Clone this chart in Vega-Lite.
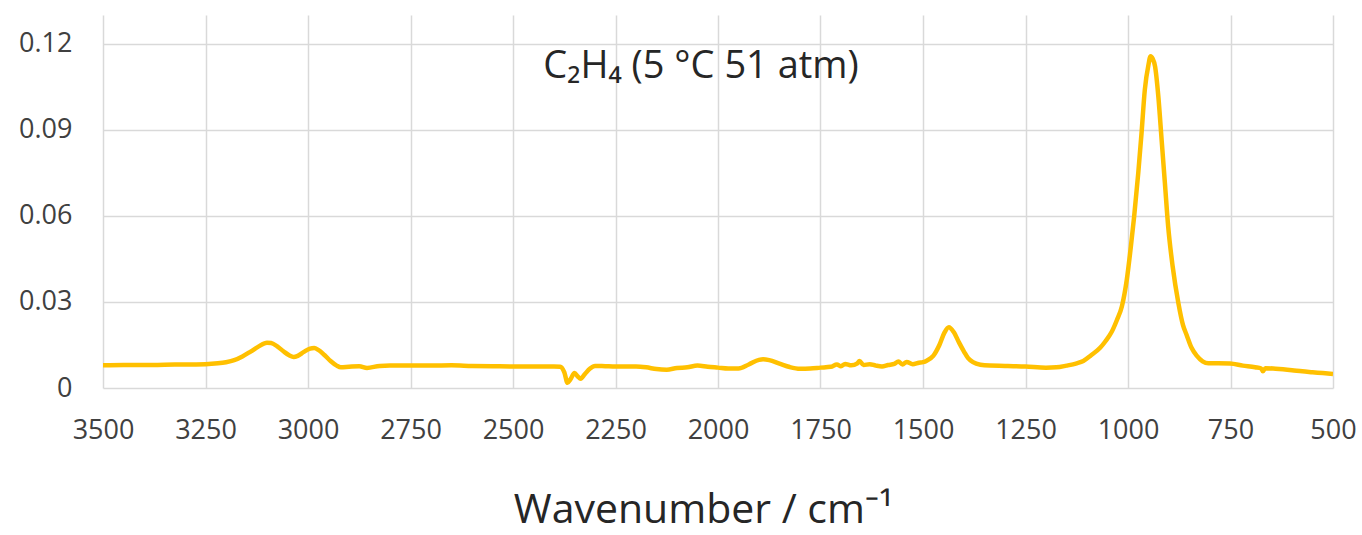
{
  "$schema": "https://vega.github.io/schema/vega-lite/v6.json",
  "width": 1230,
  "height": 373,
  "autosize": {"type": "none"},
  "padding": {"left": 103, "top": 15, "right": 29, "bottom": 147},
  "background": "white",
  "title": {
    "text": "C₂H₄ (5 °C 51 atm)",
    "font": "Open Sans",
    "fontSize": 38,
    "fontWeight": "normal",
    "color": "#262626",
    "anchor": "middle",
    "orient": "top",
    "baseline": "alphabetic",
    "offset": -101,
    "dx": -17
  },
  "config": {
    "view": {"stroke": null},
    "axis": {
      "labelFont": "Open Sans",
      "labelFontSize": 27,
      "labelColor": "#404040",
      "labelFlush": false,
      "labelOverlap": false,
      "titleFont": "Open Sans",
      "titleFontWeight": "normal",
      "titleColor": "#262626",
      "gridColor": "#d9d9d9",
      "gridWidth": 1.5,
      "domain": false,
      "ticks": false
    }
  },
  "data": {
    "values": [
      {"wavenumber": 3500, "absorbance": 0.0079},
      {"wavenumber": 3450, "absorbance": 0.0080},
      {"wavenumber": 3400, "absorbance": 0.0080},
      {"wavenumber": 3350, "absorbance": 0.0081},
      {"wavenumber": 3300, "absorbance": 0.0082},
      {"wavenumber": 3250, "absorbance": 0.0083},
      {"wavenumber": 3220, "absorbance": 0.0086},
      {"wavenumber": 3200, "absorbance": 0.0090},
      {"wavenumber": 3180, "absorbance": 0.0097},
      {"wavenumber": 3160, "absorbance": 0.0110},
      {"wavenumber": 3140, "absorbance": 0.0127},
      {"wavenumber": 3120, "absorbance": 0.0145},
      {"wavenumber": 3100, "absorbance": 0.0158},
      {"wavenumber": 3090, "absorbance": 0.0157},
      {"wavenumber": 3075, "absorbance": 0.0145},
      {"wavenumber": 3060, "absorbance": 0.0128},
      {"wavenumber": 3045, "absorbance": 0.0113},
      {"wavenumber": 3035, "absorbance": 0.0108},
      {"wavenumber": 3025, "absorbance": 0.0112},
      {"wavenumber": 3010, "absorbance": 0.0126},
      {"wavenumber": 2995, "absorbance": 0.0137},
      {"wavenumber": 2985, "absorbance": 0.0139},
      {"wavenumber": 2975, "absorbance": 0.0133},
      {"wavenumber": 2960, "absorbance": 0.0115},
      {"wavenumber": 2945, "absorbance": 0.0094},
      {"wavenumber": 2930, "absorbance": 0.0078},
      {"wavenumber": 2920, "absorbance": 0.0072},
      {"wavenumber": 2900, "absorbance": 0.0074},
      {"wavenumber": 2875, "absorbance": 0.0076},
      {"wavenumber": 2856, "absorbance": 0.0070},
      {"wavenumber": 2825, "absorbance": 0.0077},
      {"wavenumber": 2800, "absorbance": 0.0078},
      {"wavenumber": 2750, "absorbance": 0.0078},
      {"wavenumber": 2700, "absorbance": 0.0078},
      {"wavenumber": 2650, "absorbance": 0.0079},
      {"wavenumber": 2600, "absorbance": 0.0077},
      {"wavenumber": 2550, "absorbance": 0.0076},
      {"wavenumber": 2500, "absorbance": 0.0075},
      {"wavenumber": 2450, "absorbance": 0.0075},
      {"wavenumber": 2400, "absorbance": 0.0075},
      {"wavenumber": 2385, "absorbance": 0.0074},
      {"wavenumber": 2375, "absorbance": 0.0055},
      {"wavenumber": 2367, "absorbance": 0.0018},
      {"wavenumber": 2360, "absorbance": 0.0030},
      {"wavenumber": 2350, "absorbance": 0.0052},
      {"wavenumber": 2342, "absorbance": 0.0040},
      {"wavenumber": 2335, "absorbance": 0.0032},
      {"wavenumber": 2325, "absorbance": 0.0048},
      {"wavenumber": 2312, "absorbance": 0.0068},
      {"wavenumber": 2300, "absorbance": 0.0077},
      {"wavenumber": 2275, "absorbance": 0.0076},
      {"wavenumber": 2250, "absorbance": 0.0075},
      {"wavenumber": 2200, "absorbance": 0.0075},
      {"wavenumber": 2175, "absorbance": 0.0072},
      {"wavenumber": 2150, "absorbance": 0.0066},
      {"wavenumber": 2125, "absorbance": 0.0064},
      {"wavenumber": 2100, "absorbance": 0.0070},
      {"wavenumber": 2075, "absorbance": 0.0072},
      {"wavenumber": 2050, "absorbance": 0.0078},
      {"wavenumber": 2025, "absorbance": 0.0074},
      {"wavenumber": 2000, "absorbance": 0.0071},
      {"wavenumber": 1975, "absorbance": 0.0068},
      {"wavenumber": 1950, "absorbance": 0.0068},
      {"wavenumber": 1925, "absorbance": 0.0082},
      {"wavenumber": 1900, "absorbance": 0.0098},
      {"wavenumber": 1890, "absorbance": 0.0100},
      {"wavenumber": 1875, "absorbance": 0.0097},
      {"wavenumber": 1850, "absorbance": 0.0085},
      {"wavenumber": 1825, "absorbance": 0.0073},
      {"wavenumber": 1800, "absorbance": 0.0067},
      {"wavenumber": 1775, "absorbance": 0.0068},
      {"wavenumber": 1750, "absorbance": 0.0071},
      {"wavenumber": 1725, "absorbance": 0.0074},
      {"wavenumber": 1710, "absorbance": 0.0082},
      {"wavenumber": 1700, "absorbance": 0.0076},
      {"wavenumber": 1690, "absorbance": 0.0084},
      {"wavenumber": 1675, "absorbance": 0.0079},
      {"wavenumber": 1660, "absorbance": 0.0086},
      {"wavenumber": 1655, "absorbance": 0.0094},
      {"wavenumber": 1645, "absorbance": 0.0080},
      {"wavenumber": 1630, "absorbance": 0.0083},
      {"wavenumber": 1615, "absorbance": 0.0078},
      {"wavenumber": 1600, "absorbance": 0.0075},
      {"wavenumber": 1585, "absorbance": 0.0080},
      {"wavenumber": 1570, "absorbance": 0.0084},
      {"wavenumber": 1560, "absorbance": 0.0092},
      {"wavenumber": 1550, "absorbance": 0.0082},
      {"wavenumber": 1540, "absorbance": 0.0091},
      {"wavenumber": 1525, "absorbance": 0.0083},
      {"wavenumber": 1510, "absorbance": 0.0088},
      {"wavenumber": 1500, "absorbance": 0.0090},
      {"wavenumber": 1490, "absorbance": 0.0096},
      {"wavenumber": 1475, "absorbance": 0.0112},
      {"wavenumber": 1460, "absorbance": 0.0150},
      {"wavenumber": 1448, "absorbance": 0.0192},
      {"wavenumber": 1437, "absorbance": 0.0212},
      {"wavenumber": 1425, "absorbance": 0.0195},
      {"wavenumber": 1412, "absorbance": 0.0158},
      {"wavenumber": 1400, "absorbance": 0.0127},
      {"wavenumber": 1390, "absorbance": 0.0104},
      {"wavenumber": 1378, "absorbance": 0.0090},
      {"wavenumber": 1360, "absorbance": 0.0081},
      {"wavenumber": 1337, "absorbance": 0.0078},
      {"wavenumber": 1300, "absorbance": 0.0077},
      {"wavenumber": 1250, "absorbance": 0.0075},
      {"wavenumber": 1200, "absorbance": 0.0071},
      {"wavenumber": 1175, "absorbance": 0.0072},
      {"wavenumber": 1150, "absorbance": 0.0078},
      {"wavenumber": 1125, "absorbance": 0.0086},
      {"wavenumber": 1109, "absorbance": 0.0094},
      {"wavenumber": 1090, "absorbance": 0.0114},
      {"wavenumber": 1068, "absorbance": 0.0140},
      {"wavenumber": 1055, "absorbance": 0.0163},
      {"wavenumber": 1040, "absorbance": 0.0195},
      {"wavenumber": 1027, "absorbance": 0.0237},
      {"wavenumber": 1015, "absorbance": 0.0284},
      {"wavenumber": 1003, "absorbance": 0.0377},
      {"wavenumber": 993, "absorbance": 0.0493},
      {"wavenumber": 985, "absorbance": 0.0598},
      {"wavenumber": 975, "absorbance": 0.0749},
      {"wavenumber": 967, "absorbance": 0.0888},
      {"wavenumber": 959, "absorbance": 0.1039},
      {"wavenumber": 950, "absorbance": 0.1127},
      {"wavenumber": 945, "absorbance": 0.1156},
      {"wavenumber": 940, "absorbance": 0.1148},
      {"wavenumber": 934, "absorbance": 0.1121},
      {"wavenumber": 926, "absorbance": 0.1016},
      {"wavenumber": 918, "absorbance": 0.0865},
      {"wavenumber": 910, "absorbance": 0.0714},
      {"wavenumber": 902, "absorbance": 0.0563},
      {"wavenumber": 891, "absorbance": 0.0423},
      {"wavenumber": 877, "absorbance": 0.0295},
      {"wavenumber": 866, "absorbance": 0.0220},
      {"wavenumber": 857, "absorbance": 0.0185},
      {"wavenumber": 845, "absorbance": 0.0140},
      {"wavenumber": 832, "absorbance": 0.0112},
      {"wavenumber": 818, "absorbance": 0.0093},
      {"wavenumber": 804, "absorbance": 0.0086},
      {"wavenumber": 780, "absorbance": 0.0086},
      {"wavenumber": 751, "absorbance": 0.0085},
      {"wavenumber": 720, "absorbance": 0.0078},
      {"wavenumber": 690, "absorbance": 0.0072},
      {"wavenumber": 675, "absorbance": 0.0068},
      {"wavenumber": 671, "absorbance": 0.0058},
      {"wavenumber": 665, "absorbance": 0.0069},
      {"wavenumber": 640, "absorbance": 0.0067},
      {"wavenumber": 622, "absorbance": 0.0065},
      {"wavenumber": 600, "absorbance": 0.0062},
      {"wavenumber": 575, "absorbance": 0.0058},
      {"wavenumber": 550, "absorbance": 0.0055},
      {"wavenumber": 525, "absorbance": 0.0052},
      {"wavenumber": 500, "absorbance": 0.0049}
    ]
  },
  "mark": {"type": "line", "color": "#FFC000", "strokeWidth": 4.5, "interpolate": "monotone", "clip": true},
  "encoding": {
    "x": {
      "field": "wavenumber",
      "type": "quantitative",
      "scale": {"domain": [500, 3500], "reverse": true, "nice": false, "zero": false},
      "axis": {
        "values": [3500, 3250, 3000, 2750, 2500, 2250, 2000, 1750, 1500, 1250, 1000, 750, 500],
        "format": "d",
        "labelPadding": 29,
        "labelBaseline": "top",
        "title": "Wavenumber / cm⁻¹",
        "titleFontSize": 41,
        "titleX": 600,
        "titleY": 134,
        "titleAlign": "center",
        "titleBaseline": "alphabetic"
      }
    },
    "y": {
      "field": "absorbance",
      "type": "quantitative",
      "scale": {"domain": [0, 0.13], "nice": false},
      "axis": {
        "values": [0, 0.03, 0.06, 0.09, 0.12],
        "format": "~g",
        "labelPadding": 31,
        "title": null
      }
    }
  }
}
